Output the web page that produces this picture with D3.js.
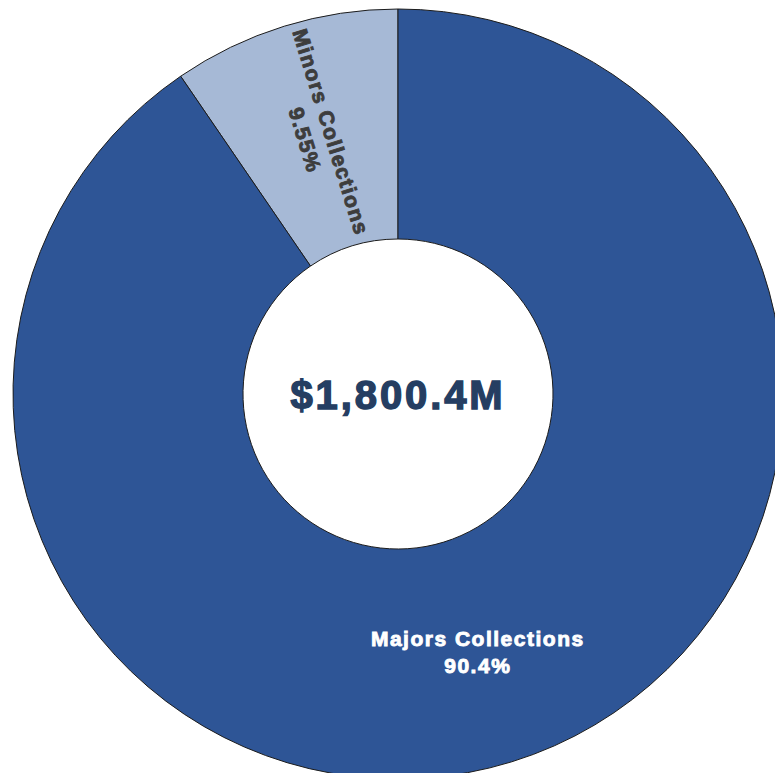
<!DOCTYPE html>
<html>
<head>
<meta charset="utf-8">
<script src="https://cdn.jsdelivr.net/npm/d3@7"></script>
<style>
  html, body { margin: 0; padding: 0; background: #ffffff; }
  svg { display: block; }
</style>
</head>
<body>
<svg id="chart" width="775" height="773"></svg>
<script>
const categories = ["Minors Collections", "Majors Collections"];
const values = [171.9, 1628.5];           // $M
const percentLabels = ["9.55%", "90.4%"];
const totalLabel = "$1,800.4M";
const colors = ["#a6b9d6", "#2e5596"];
const textColors = ["#3d3d3d", "#ffffff"];

const svg = d3.select("#chart");
const cx = 398, cy = 394, rOuter = 385, rInner = 155;

const data = categories.map((c, i) => ({ cat: c, value: values[i], pct: percentLabels[i], color: colors[i], tc: textColors[i] }));
const total = d3.sum(values);
const start = -2 * Math.PI * values[0] / total;

const pie = d3.pie().value(d => d.value).sort(null).startAngle(start).endAngle(start + 2 * Math.PI);
const arc = d3.arc().innerRadius(rInner).outerRadius(rOuter);
const arcs = pie(data);

const g = svg.append("g").attr("transform", `translate(${cx},${cy})`);

g.selectAll("path.slice").data(arcs).join("path")
  .attr("class", "slice")
  .attr("d", arc)
  .attr("fill", d => d.data.color)
  .attr("stroke", "#1c1c1c")
  .attr("stroke-width", 1);

const labelArc = d3.arc().innerRadius(rInner).outerRadius(rOuter);

arcs.forEach((d, i) => {
  const [x, y] = labelArc.centroid(d);
  const mid = (d.startAngle + d.endAngle) / 2;
  let rot = 0;
  if (i === 0) {
    // radial orientation, reading inward
    rot = mid * 180 / Math.PI + 90;
  }
  const t = g.append("text")
    .attr("transform", `translate(${x},${y}) rotate(${rot})`)
    .attr("text-anchor", "middle")
    .attr("fill", d.data.tc)
    .attr("stroke", d.data.tc)
    .attr("stroke-width", 0.9)
    .style("font-family", "'Liberation Sans', Arial, sans-serif")
    .style("font-weight", "bold")
    .style("font-size", "21px")
    .style("letter-spacing", "1.5px");
  t.append("tspan").attr("x", 0).attr("y", -6).text(d.data.cat);
  t.append("tspan").attr("x", 0).attr("y", 21).text(d.data.pct);
});

g.append("text")
  .attr("x", 0).attr("y", 15)
  .attr("text-anchor", "middle")
  .attr("fill", "#253e62")
  .attr("stroke", "#253e62")
  .attr("stroke-width", 1.4)
  .style("font-family", "'Liberation Sans', Arial, sans-serif")
  .style("font-weight", "bold")
  .style("font-size", "40px")
  .style("letter-spacing", "2.9px")
  .text(totalLabel);
</script>
</body>
</html>
